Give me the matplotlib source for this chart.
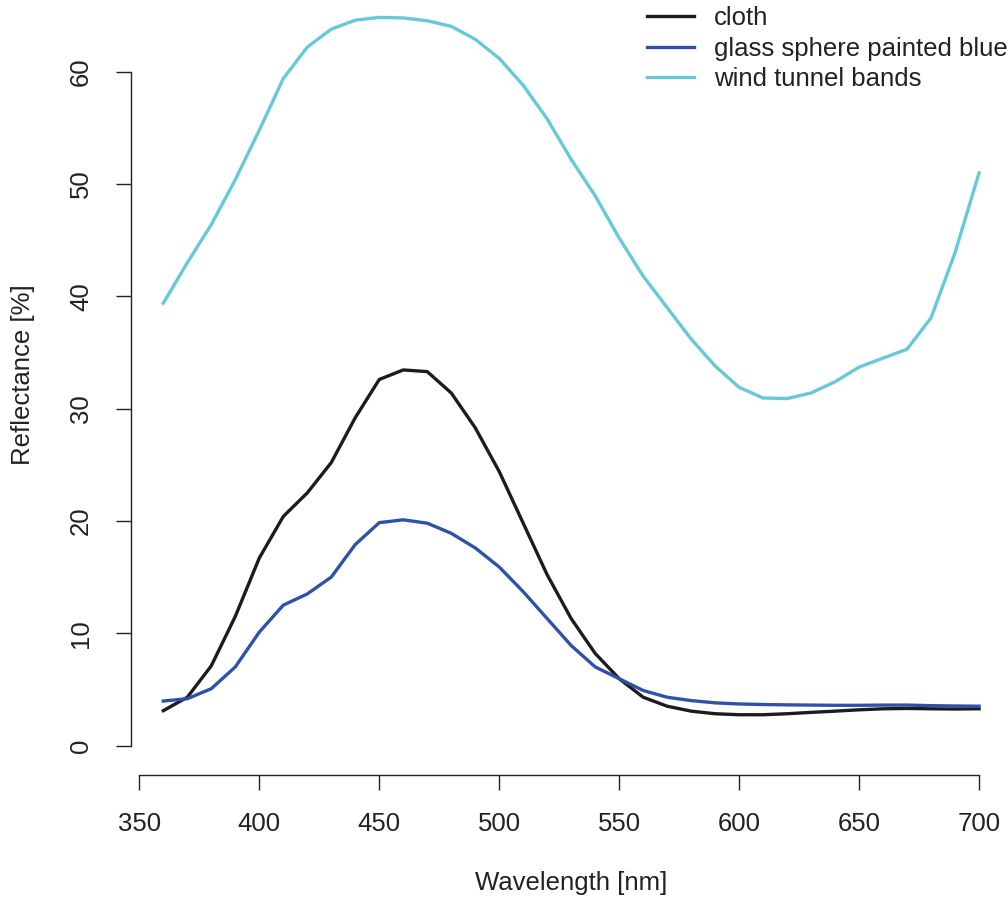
import matplotlib
matplotlib.use("Agg")
import matplotlib.pyplot as plt
import numpy as np

plt.rcParams['font.family'] = ['Liberation Sans', 'DejaVu Sans']

# Wavelength grid (nm)
wavelength = [360, 370, 380, 390, 400, 410, 420, 430, 440, 450, 460, 470, 480,
              490, 500, 510, 520, 530, 540, 550, 560, 570, 580, 590, 600, 610,
              620, 630, 640, 650, 660, 670, 680, 690, 700]

# Reflectance spectra (%)
cloth = [3.1, 4.3, 7.1, 11.5, 16.7, 20.4, 22.5, 25.2, 29.2, 32.6, 33.45, 33.3,
         31.4, 28.3, 24.4, 19.8, 15.2, 11.3, 8.2, 5.95, 4.3, 3.5, 3.06, 2.83,
         2.74, 2.74, 2.83, 2.95, 3.06, 3.18, 3.27, 3.3, 3.27, 3.25, 3.27]
glass_sphere = [3.96, 4.17, 5.06, 7.0, 10.1, 12.5, 13.5, 15.0, 17.9, 19.85,
                20.1, 19.8, 18.9, 17.6, 15.9, 13.7, 11.3, 8.9, 7.0, 5.95, 4.9,
                4.3, 4.0, 3.8, 3.7, 3.65, 3.62, 3.6, 3.58, 3.58, 3.6, 3.6,
                3.55, 3.52, 3.5]
wind_tunnel = [39.4, 43.0, 46.4, 50.4, 54.8, 59.4, 62.2, 63.8, 64.6, 64.85,
               64.8, 64.55, 64.05, 62.9, 61.2, 58.8, 55.8, 52.2, 48.96, 45.2,
               41.8, 39.0, 36.2, 33.8, 31.9, 30.95, 30.9, 31.4, 32.4, 33.7,
               34.5, 35.3, 38.1, 43.9, 51.0]

series_names = ["cloth", "glass sphere painted blue", "wind tunnel bands"]
series_colors = ["#1c1c1c", "#2f52a8", "#66c9da"]

x_ticks = [350, 400, 450, 500, 550, 600, 650, 700]
y_ticks = [0, 10, 20, 30, 40, 50, 60]

W, H = 1008, 899
fig = plt.figure(figsize=(W / 100, H / 100), dpi=100)
FS = 18.5

# plot region in pixels (left, right, bottom, top)
px_l, px_r, px_b, px_t = 130.7, 1011.7, 774.7, -13.5
ax = fig.add_axes([px_l / W, (H - px_b) / H, (px_r - px_l) / W, (px_b - px_t) / H])
ax.set_xlim(346.4, 713.6)
ax.set_ylim(-2.6, 67.6)

for ys, name, col in zip([cloth, glass_sphere, wind_tunnel], series_names, series_colors):
    ax.plot(wavelength, ys, color=col, lw=2.4, label=name, solid_joinstyle='round')

ink = "#222222"
for side in ["top", "right"]:
    ax.spines[side].set_visible(False)
ax.spines["left"].set_bounds(0, 60)
ax.spines["bottom"].set_bounds(350, 700)
for side in ["left", "bottom"]:
    ax.spines[side].set_linewidth(1.0)
    ax.spines[side].set_color(ink)

ax.set_xticks(x_ticks)
ax.set_yticks(y_ticks)
ax.tick_params(axis='both', direction='out', length=11, width=1.0, color=ink,
               labelsize=FS, labelcolor=ink)
ax.tick_params(axis='x', pad=16)
ax.tick_params(axis='y', pad=16)
for lbl in ax.get_yticklabels():
    lbl.set_rotation(90)
    lbl.set_verticalalignment('center')

fig.text(571 / W, (H - 883) / H, "Wavelength [nm]", ha='center', va='center',
         fontsize=FS, color=ink)
fig.text(23 / W, (H - 375) / H, "Reflectance [%]", ha='center', va='center',
         rotation=90, fontsize=FS, color=ink)

leg = ax.legend(loc='upper left', bbox_to_anchor=(646.7 / W, (H - 6) / H),
                bbox_transform=fig.transFigure, frameon=False, fontsize=FS,
                handlelength=1.85, handletextpad=0.78, labelspacing=0.26,
                borderpad=0, borderaxespad=0)
for t in leg.get_texts():
    t.set_color(ink)

fig.savefig("out.png", dpi=100)
